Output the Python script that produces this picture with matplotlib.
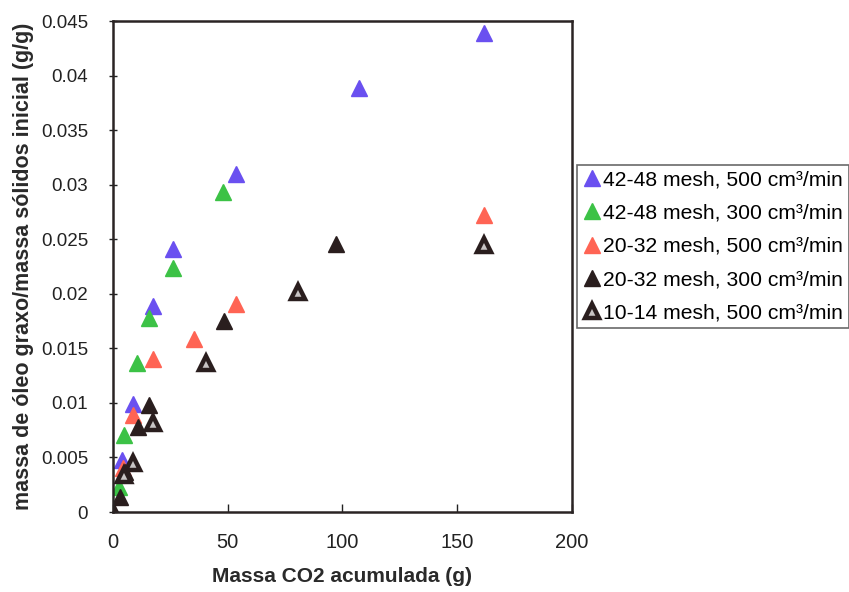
import matplotlib.pyplot as plt
from matplotlib.ticker import FixedLocator, FuncFormatter

plt.rcParams['font.family'] = ['Liberation Sans', 'DejaVu Sans']

# 42-48 mesh, 500 cm3/min
x_4248_500 = [3.8, 8.5, 17.4, 26.3, 53.5, 107.4, 161.7]
y_4248_500 = [0.0048, 0.0099, 0.0189, 0.0241, 0.0310, 0.0389, 0.0439]
# 42-48 mesh, 300 cm3/min
x_4248_300 = [2.8, 5.0, 10.4, 15.7, 26.3, 47.8]
y_4248_300 = [0.0023, 0.0071, 0.0137, 0.0178, 0.0224, 0.0293]
# 20-32 mesh, 500 cm3/min
x_2032_500 = [4.2, 8.6, 17.4, 35.5, 53.5, 161.7]
y_2032_500 = [0.0040, 0.0089, 0.0140, 0.0159, 0.0191, 0.0272]
# 20-32 mesh, 300 cm3/min
x_2032_300 = [3.0, 5.2, 10.8, 15.9, 48.3, 97.0]
y_2032_300 = [0.0014, 0.0037, 0.0078, 0.0098, 0.0175, 0.0246]
# 10-14 mesh, 500 cm3/min
x_1014_500 = [0.0, 4.8, 8.8, 17.6, 40.4, 80.4, 161.7]
y_1014_500 = [0.0, 0.0034, 0.0045, 0.0082, 0.0137, 0.0202, 0.0245]

labels = ['42-48 mesh, 500 cm³/min', '42-48 mesh, 300 cm³/min',
          '20-32 mesh, 500 cm³/min', '20-32 mesh, 300 cm³/min',
          '10-14 mesh, 500 cm³/min']

fig = plt.figure(figsize=(8.49, 5.92), dpi=100)
ax = fig.add_axes([0.1331, 0.1351, 0.5406, 0.8294])

ms = 11.5
ax.plot(x_4248_500, y_4248_500, '^', ms=ms, color='#6a50f0', mec='#6a50f0', label=labels[0])
ax.plot(x_4248_300, y_4248_300, '^', ms=ms, color='#3cc246', mec='#3cc246', label=labels[1])
ax.plot(x_2032_500, y_2032_500, '^', ms=ms, color='#ff6454', mec='#ff6454', label=labels[2])
ax.plot(x_2032_300, y_2032_300, '^', ms=ms, color='#2a1e1e', mec='#2a1e1e', label=labels[3])
ax.plot(x_1014_500, y_1014_500, '^', ms=ms - 1.5, mfc='#c8c4c4', mec='#2a1e1e', mew=3.2,
        label=labels[4])

ax.set_xlim(0, 200)
ax.set_ylim(0, 0.045)
ax.xaxis.set_major_locator(FixedLocator([0, 50, 100, 150, 200]))
ax.yaxis.set_major_locator(FixedLocator([i * 0.005 for i in range(10)]))
ax.yaxis.set_major_formatter(FuncFormatter(lambda v, p: f"{round(v, 3):g}"))
ax.tick_params(axis='both', colors='#222222', length=6, width=1)
ax.tick_params(axis='y', direction='inout', pad=15, labelsize=13.5)
ax.tick_params(axis='x', direction='in', pad=15, labelsize=14.5)
for s in ax.spines.values():
    s.set_linewidth(1.8)
    s.set_color('#2a2424')
for t in ax.get_xticklines() + ax.get_yticklines():
    t.set_color('#777777')

ax.set_xlabel('Massa CO2 acumulada (g)', fontsize=15, fontweight='bold',
              color='#2a2a2a', labelpad=11)
ax.set_ylabel('massa de óleo graxo/massa sólidos inicial (g/g)', fontsize=15.5,
              fontweight='bold', color='#2a2a2a', labelpad=5)

leg = fig.legend(loc='upper left', bbox_to_anchor=(0.6796, 0.7213), borderaxespad=0,
                 fontsize=15.2, fancybox=False, frameon=True, handletextpad=0.1,
                 handlelength=0.9, labelspacing=0.68, borderpad=0.25)
leg.get_frame().set_edgecolor('#444444')
leg.get_frame().set_linewidth(1.2)

fig.savefig('out.png', dpi=100)
